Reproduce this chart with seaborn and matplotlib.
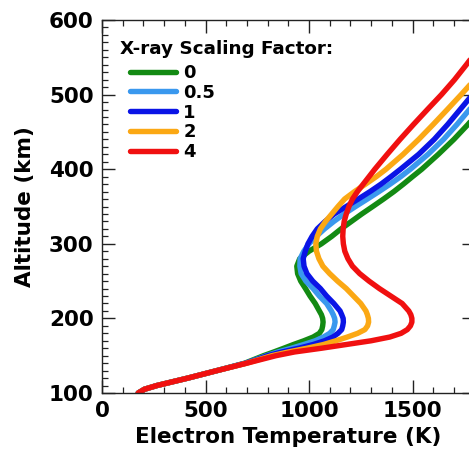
import numpy as np
import pandas as pd
import matplotlib
matplotlib.use("Agg")
import matplotlib.pyplot as plt
from matplotlib.lines import Line2D
from matplotlib.ticker import MultipleLocator
import seaborn as sns

# ---------------- data ----------------
altitude_km = [100, 105, 110, 120, 130, 140, 145, 150, 155, 160, 165, 170, 175, 180,
               185, 190, 195, 200, 205, 210, 220, 230, 240, 250, 260, 270, 280, 290,
               300, 310, 320, 330, 340, 350, 360, 370, 380, 390, 400, 420, 440, 460,
               480, 500, 520, 540, 560, 580]

te_factor_0 = [175, 205, 265, 415, 555, 690, 735, 780, 830, 878, 925, 975, 1020, 1050,
               1062, 1066, 1068, 1066, 1060, 1050, 1030, 1005, 983, 960, 945, 941, 955, 1000,
               1060, 1110, 1155, 1205, 1255, 1308, 1360, 1410, 1456, 1500, 1545, 1625, 1700, 1768,
               1830, 1890, 1950, 2010, 2070, 2130]

te_factor_05 = [175, 205, 265, 415, 555, 695, 745, 795, 850, 915, 975, 1030, 1070, 1100,
                1117, 1122, 1126, 1124, 1117, 1108, 1085, 1050, 1020, 985, 962, 956, 957, 975,
                1000, 1035, 1075, 1120, 1170, 1225, 1282, 1338, 1392, 1443, 1490, 1575, 1650, 1715,
                1775, 1835, 1895, 1955, 2015, 2075]

te_factor_1 = [175, 205, 265, 415, 555, 695, 750, 800, 870, 950, 1020, 1075, 1115, 1140,
               1158, 1163, 1166, 1165, 1158, 1150, 1120, 1085, 1055, 1018, 990, 976, 972, 982,
               995, 1015, 1040, 1078, 1122, 1180, 1238, 1295, 1348, 1396, 1442, 1530, 1605, 1670,
               1730, 1790, 1850, 1910, 1970, 2030]

te_factor_2 = [175, 205, 265, 415, 555, 700, 760, 820, 900, 990, 1070, 1130, 1185, 1235,
               1270, 1283, 1288, 1287, 1282, 1275, 1250, 1215, 1180, 1138, 1100, 1067, 1048, 1036,
               1033, 1040, 1055, 1080, 1110, 1140, 1172, 1220, 1273, 1325, 1372, 1455, 1530, 1600,
               1668, 1735, 1800, 1865, 1930, 1995]

te_factor_4 = [175, 205, 265, 415, 555, 700, 770, 840, 930, 1060, 1180, 1300, 1390, 1445,
               1475, 1490, 1497, 1497, 1492, 1482, 1450, 1395, 1340, 1290, 1245, 1210, 1188, 1173,
               1166, 1163, 1165, 1170, 1180, 1193, 1210, 1234, 1262, 1290, 1318, 1378, 1440, 1505,
               1572, 1640, 1703, 1760, 1815, 1868]

factor_labels = ["0", "0.5", "1", "2", "4"]
series = [te_factor_0, te_factor_05, te_factor_1, te_factor_2, te_factor_4]
colors = ["#138a13", "#3a98ee", "#0a14e6", "#fba814", "#f01010"]

x_ticks = [0, 500, 1000, 1500]
y_ticks = [100, 200, 300, 400, 500, 600]

# ---------------- build long table ----------------
frames = []
for lab, vals in zip(factor_labels, series):
    frames.append(pd.DataFrame({"Altitude": altitude_km, "Te": vals, "factor": lab}))
df = pd.concat(frames, ignore_index=True)

sns.set_style("white")
plt.rcParams["font.family"] = ["DejaVu Sans"]
plt.rcParams["font.weight"] = "bold"
plt.rcParams["text.color"] = "black"
plt.rcParams["axes.labelcolor"] = "black"
plt.rcParams["xtick.color"] = "black"
plt.rcParams["ytick.color"] = "black"

W, H = 469, 449
fig = plt.figure(figsize=(W / 100, H / 100), dpi=100)
x_right_px = 102 + 1800 * (103.5 / 500)
ax = fig.add_axes([102 / W, 1 - 393 / H, (x_right_px - 102) / W, (393 - 20) / H])

palette = dict(zip(factor_labels, colors))
sns.lineplot(data=df, x="Te", y="Altitude", hue="factor", hue_order=factor_labels,
             palette=palette, sort=False, estimator=None, linewidth=3.9,
             legend=False, ax=ax)
for ln in ax.get_lines():
    ln.set_solid_capstyle("round")
    ln.set_solid_joinstyle("round")

ax.set_xlim(0, 1800)
ax.set_ylim(100, 600)
ax.set_xticks(x_ticks)
ax.set_yticks(y_ticks)
ax.xaxis.set_minor_locator(MultipleLocator(100))
ax.yaxis.set_minor_locator(MultipleLocator(10))
ax.tick_params(which="both", direction="in", top=True, right=True, bottom=True, left=True,
               color="#222222", labelcolor="black")
ax.tick_params(which="major", length=9.5, width=1.0, labelsize=15.5, pad=6)
ax.tick_params(which="minor", length=4.5, width=0.9)
for lbl in ax.get_xticklabels() + ax.get_yticklabels():
    lbl.set_fontweight("bold")
for sp in ax.spines.values():
    sp.set_color("#222222")
    sp.set_linewidth(1.0)

ax.set_xlabel("Electron Temperature (K)", fontsize=15.5, fontweight="bold", labelpad=4,
              color="black")
ax.set_ylabel("Altitude (km)", fontsize=15.5, fontweight="bold", labelpad=10, color="black")

handles = [Line2D([0], [0], color=c, lw=3.9) for c in colors]
fig.text(120 / W, 1 - 49 / H, "X-ray Scaling Factor:", fontsize=13.2, fontweight="bold",
         ha="left", va="center", color="black")
leg = ax.legend(handles, factor_labels, loc="upper left",
                bbox_to_anchor=(130 / W, 1 - 64 / H), bbox_transform=fig.transFigure,
                frameon=False, borderpad=0, borderaxespad=0, handlelength=2.55,
                handletextpad=0.4, labelspacing=0.1,
                prop={"size": 13, "weight": "bold"})
for t in leg.get_texts():
    t.set_color("black")

fig.savefig("out.png", dpi=100)
